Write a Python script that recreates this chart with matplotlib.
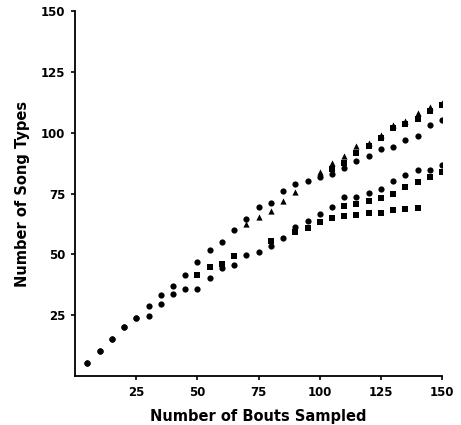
import matplotlib
matplotlib.use('Agg')
import matplotlib.pyplot as plt
import numpy as np

# bouts sampled (x) and song-type counts per series (y)
bouts = list(range(5, 155, 5))

common = [5.5, 10.4, 15.3, 20.3, 23.8]

top_circles = [5.5, 10.4, 15.3, 20.3, 23.8, 28.7, 33.3, 37.1, 41.5, 47.0,
               51.8, 55.3, 60.2, 64.6, 69.5, 71.0, 76.1, 79.1, 80.2, 82.0,
               82.9, 85.5, 88.3, 90.4, 93.4, 94.3, 97.1, 98.5, 103.0, 105.2]

top_triangles = common + [28.7, 33.3, 37.1, 41.5, 47.0, 51.8, 55.3, 60.2,
                          62.5, 65.3, 68.0, 72.1, 75.8, 80.2, 83.9, 87.6, 90.6,
                          94.7, 95.9, 99.0, 103.1, 104.8, 108.3, 110.4, 112.3]

top_squares = top_circles[:20] + [85.0, 87.7, 91.8, 94.7, 98.0, 102.0, 103.6,
                                  105.5, 109.0, 111.2]

low_circles = [5.5, 10.4, 15.3, 20.3, 23.8, 24.9, 29.8, 33.6, 35.9, 35.9,
               40.3, 44.4, 45.7, 49.7, 51.1, 53.5, 56.9, 61.3, 63.7, 66.5,
               69.4, 73.5, 73.6, 75.4, 77.0, 80.3, 82.5, 84.6, 84.6, 86.9]

low_squares = common + [28.7, 33.3, 37.1, 41.5, 41.7, 44.8, 46.1, 49.3, 49.7,
                        51.1, 55.7, 56.9, 59.3, 60.9, 63.3, 65.0, 70.1, 70.8,
                        71.9, 73.2, 74.7, 77.6, 79.8, 81.8, 84.0]

flat_squares = low_squares[:21] + [65.6, 66.0, 66.9, 66.9, 68.3, 68.6, 69.1]

ticks = [25, 50, 75, 100, 125, 150]


def visible(vals):
    # a point hidden under a circle at the same x is not drawn separately
    x = np.array(bouts[:len(vals)])
    y = np.array(vals)
    tc = np.array(top_circles[:len(vals)])
    lc = np.array(low_circles[:len(vals)])
    keep = (y != tc) & (y != lc)
    return x[keep], y[keep]


fig = plt.figure(figsize=(4.61, 4.25), dpi=100)
ax = fig.add_axes([0.163, 0.115, 0.796, 0.859])

ms = 20
x, y = visible(top_triangles)
ax.scatter(x, y, marker='^', s=ms, color='black', linewidths=0)
for series in (top_squares, low_squares, flat_squares):
    x, y = visible(series)
    ax.scatter(x, y, marker='s', s=ms * 0.8, color='black', linewidths=0)
ax.scatter(bouts, top_circles, marker='o', s=ms, color='black', linewidths=0)
ax.scatter(bouts, low_circles, marker='o', s=ms, color='black', linewidths=0)

ax.set_xlim(0, 150)
ax.set_ylim(0, 150)
ax.set_xticks(ticks)
ax.set_yticks(ticks)
ax.spines['top'].set_visible(False)
ax.spines['right'].set_visible(False)
for s in ('left', 'bottom'):
    ax.spines[s].set_linewidth(1.3)
ax.tick_params(direction='out', length=3, width=1.2, labelsize=8.5, pad=4)
for lab in ax.get_xticklabels() + ax.get_yticklabels():
    lab.set_fontweight('bold')

ax.set_xlabel('Number of Bouts Sampled', fontsize=10.5, fontweight='bold', labelpad=7)
ax.set_ylabel('Number of Song Types', fontsize=10.5, fontweight='bold', labelpad=8)

plt.savefig('out.png', dpi=100)
